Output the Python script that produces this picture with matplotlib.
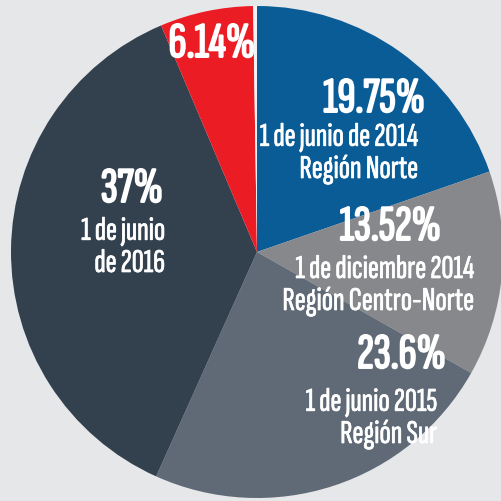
import matplotlib.pyplot as plt
import matplotlib.patheffects as pe

# shares, clockwise from the top
shares = [19.75, 13.52, 23.6, 37, 6.14, 0.25]
colors = ['#0a5c97', '#87888c', '#5f6a76', '#33414f', '#ec1c24', '#f2f3f4']
pct_labels = ['19.75%', '13.52%', '23.6%', '37%', '6.14%']
sub_labels = [['1 de junio de 2014', 'Región Norte'],
              ['1 de diciembre 2014', 'Región Centro-Norte'],
              ['1 de junio 2015', 'Región Sur'],
              ['1 de junio', 'de 2016'],
              []]

W, H = 501, 502
bg = '#e6e7e9'
font = ['Sofia Sans Extra Condensed', 'Barlow Condensed', 'DejaVu Sans']

fig = plt.figure(figsize=(W / 100, H / 100), dpi=100, facecolor=bg)
ax = fig.add_axes([0, 0, 1, 1])
ax.set_facecolor(bg)
ax.axis('off')

ax.pie(shares, colors=colors, startangle=90, counterclock=False,
       center=(257, H - 253), radius=246, wedgeprops=dict(linewidth=0))
ax.set_aspect('equal')
ax.set_xlim(0, W)
ax.set_ylim(0, H)

# label placement in pixel coords (right edge, centre y)
pct_pos = [(425, 100), (441, 228), (446, 356), (163, 190), (212, 45)]
sub_pos = [(418, 138), (474, 270), (437, 403), (165, 232), None]
line_gap = 32


def put(x, y, s, size, stroke, ha='right'):
    ax.text(x, H - y, s, ha=ha, va='center', color='white',
            fontsize=size, family=font,
            path_effects=[pe.withStroke(linewidth=stroke, foreground='white')])


for i, p in enumerate(pct_labels):
    x, y = pct_pos[i]
    put(x, y, p, 36, 1.4, ha='center' if i == 4 else 'right')
    if sub_pos[i]:
        sx, sy = sub_pos[i]
        for k, line in enumerate(sub_labels[i]):
            put(sx, sy + k * line_gap, line, 24, 0.5)

fig.savefig('out.png', dpi=100, facecolor=bg)
